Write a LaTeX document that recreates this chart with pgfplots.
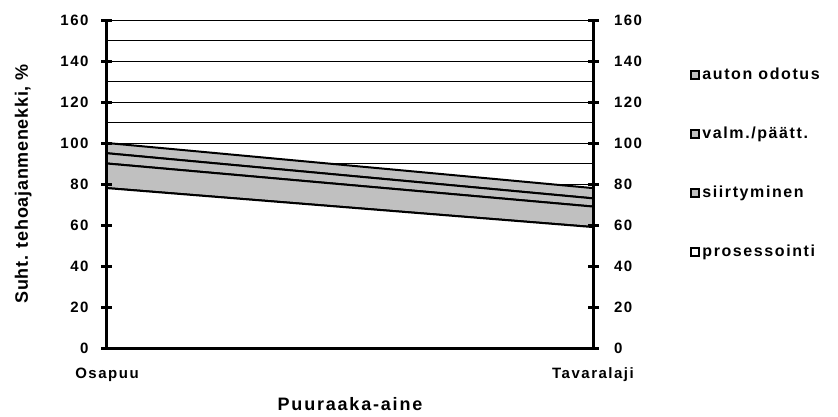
\documentclass[border=0pt]{standalone}
\usepackage{pgfplots}
\pgfplotsset{compat=1.18}
\usepackage{fontspec}
\setmainfont{Liberation Sans}
\newfontfamily\spfont{Liberation Sans}[LetterSpace=10]
\newfontfamily\lblfont{Liberation Sans}[LetterSpace=4]
\definecolor{areagray}{RGB}{192,192,192}
\begin{document}
\begin{tikzpicture}
\pgfplotsset{
  every axis/.append style={
    scale only axis, width=486pt, height=328pt,
    xmin=0, xmax=1, ymin=0, ymax=160,
    font=\spfont\bfseries\fontsize{15}{18}\selectfont,
    /pgf/number format/assume math mode=true,
  }
}
\begin{axis}[
  stack plots=y,
  axis line style={draw=none},
  xtick={0,1}, xticklabels={Osapuu,Tavaralaji},
  xtick style={draw=none},
  xticklabel style={yshift=-16pt},
  ytick={0,20,...,160},
  ytick style={draw=none},
  minor ytick={10,30,...,150},
  ymajorgrids, yminorgrids,
  major grid style={black, line width=0.8pt},
  minor grid style={black, line width=0.8pt},
  yticklabel style={xshift=-15pt},
  xlabel={Puuraaka-aine},
  xlabel style={font=\spfont\bfseries\fontsize{18}{21}\selectfont, yshift=-9pt},
  ylabel={Suht. tehoajanmenekki, \%},
  ylabel style={font=\lblfont\bfseries\fontsize{18}{21}\selectfont, yshift=22pt},
  reverse legend,
  legend cell align=left,
  legend style={draw=none, fill=none, at={(1.2,0.86)}, anchor=north west,
    row sep=42pt, inner sep=0pt,
    font=\spfont\bfseries\fontsize{16}{19}\selectfont},
  legend image code/.code={\draw[#1, draw=black, line width=2pt] (0pt,-4pt) rectangle (8pt,4pt);},
]
\addplot[fill=white, draw=black, line width=2pt] coordinates {(0,78) (1,59)} \closedcycle;
\addlegendentry{prosessointi}
\addplot[fill=areagray, draw=black, line width=2pt] coordinates {(0,12) (1,10)} \closedcycle;
\addlegendentry{siirtyminen}
\addplot[fill=areagray, draw=black, line width=2pt] coordinates {(0,5) (1,4)} \closedcycle;
\addlegendentry{valm./päätt.}
\addplot[fill=areagray, draw=black, line width=2pt] coordinates {(0,5) (1,5)} \closedcycle;
\addlegendentry{auton odotus}
\end{axis}
\begin{axis}[
  axis x line*=bottom, axis y line*=box,
  axis line style={-, line width=3pt},
  xtick=\empty,
  ytick={0,20,...,160},
  yticklabel pos=right,
  tick align=center,
  major tick length=11pt,
  ytick style={line width=3pt, black},
  yticklabel style={xshift=12pt},
]
\end{axis}
\pgfresetboundingbox
\path[use as bounding box] (-107pt,-68pt) rectangle (731pt,348pt);
\end{tikzpicture}
\end{document}
